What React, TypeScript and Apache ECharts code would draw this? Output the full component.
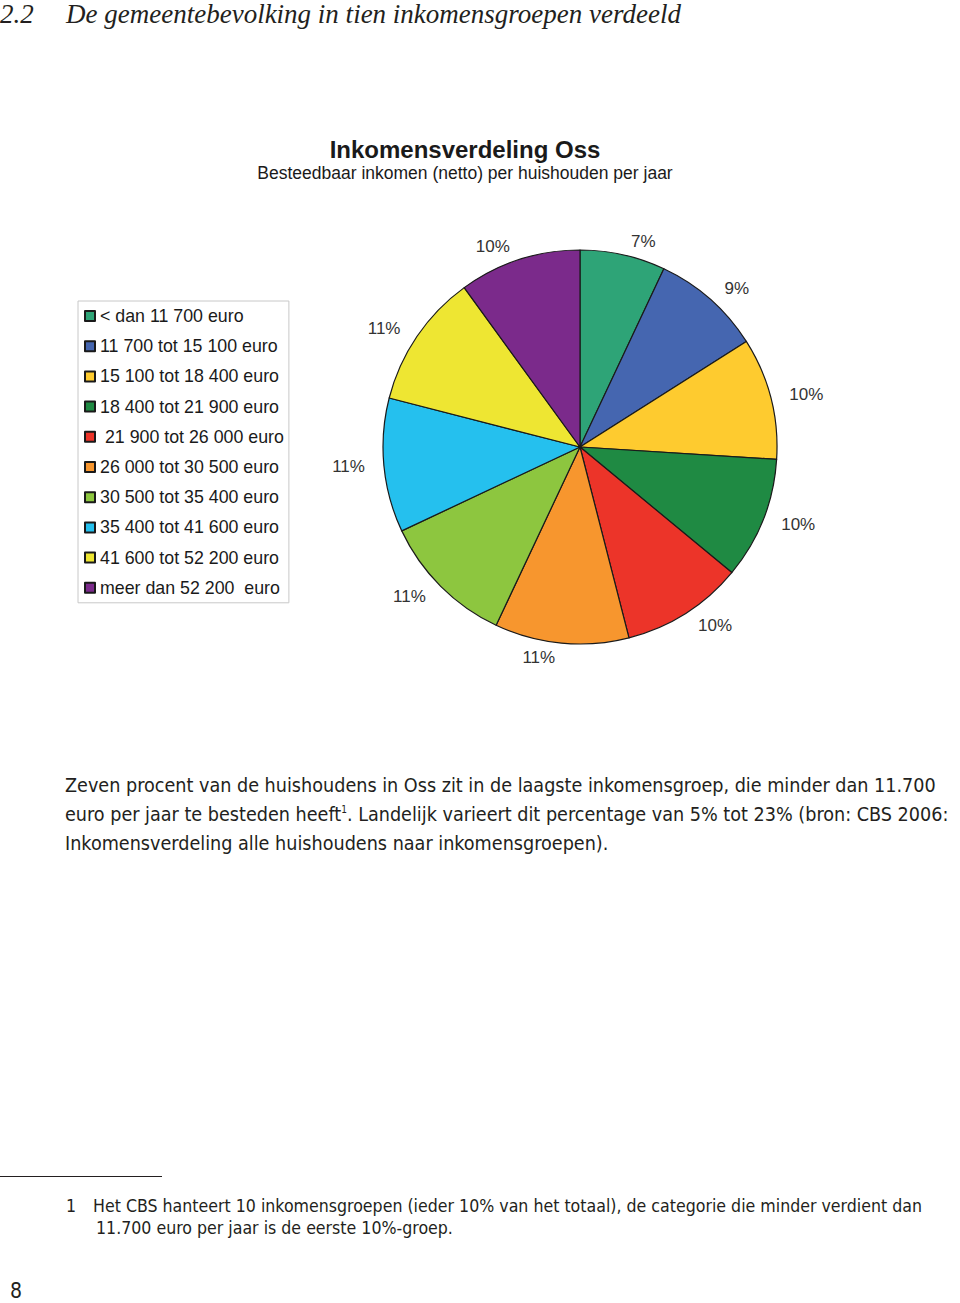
import React, { useEffect, useRef } from "react";
import * as echarts from "echarts";

const categories = [
  "< dan 11 700 euro",
  "11 700 tot 15 100 euro",
  "15 100 tot 18 400 euro",
  "18 400 tot 21 900 euro",
  " 21 900 tot 26 000 euro",
  "26 000 tot 30 500 euro",
  "30 500 tot 35 400 euro",
  "35 400 tot 41 600 euro",
  "41 600 tot 52 200 euro",
  "meer dan 52 200  euro",
];
const shares = [7, 9, 10, 10, 10, 11, 11, 11, 11, 10];
const colors = [
  "#2ea477",
  "#4566b0",
  "#fecb2f",
  "#1f8a43",
  "#ec3429",
  "#f7962e",
  "#8dc63f",
  "#25c0ee",
  "#eee632",
  "#7b2a8b",
];

const headingNumber = "2.2";
const headingText = "De gemeentebevolking in tien inkomensgroepen verdeeld";
const chartTitle = "Inkomensverdeling Oss";
const chartSubtitle = "Besteedbaar inkomen (netto) per huishouden per jaar";
const bodyLines = [
  "Zeven procent van de huishoudens in Oss zit in de laagste inkomensgroep, die minder dan 11.700",
  "euro per jaar te besteden heeft{sup|1}. Landelijk varieert dit percentage van 5% tot 23% (bron: CBS 2006:",
  "Inkomensverdeling alle huishoudens naar inkomensgroepen).",
];
const footnoteNumber = "1";
const footnoteLines = [
  "Het CBS hanteert 10 inkomensgroepen (ieder 10% van het totaal), de categorie die minder verdient dan",
  "11.700 euro per jaar is de eerste 10%-groep.",
];
const pageNumber = "8";

const BODY_FONT = "'DejaVu Sans Condensed', sans-serif";
const TEXT_COLOR = "#231f20";

export default function App() {
  const ref = useRef<HTMLDivElement>(null);

  useEffect(() => {
    if (!ref.current) return;
    const chart = echarts.init(ref.current, null, { renderer: "svg" });
    const data = categories.map((name, i) => ({
      name,
      value: shares[i],
      itemStyle: { color: colors[i] },
    }));
    chart.setOption({
      animation: false,
      backgroundColor: "#ffffff",
      title: {
        text: chartTitle,
        subtext: chartSubtitle,
        left: 460,
        top: 132,
        textAlign: "center",
        itemGap: 3,
        textStyle: {
          fontFamily: "'Liberation Sans', Arial, sans-serif",
          fontWeight: "bold",
          fontSize: 24,
          color: "#1a1a1a",
        },
        subtextStyle: {
          fontFamily: "'Liberation Sans', Arial, sans-serif",
          fontSize: 17.5,
          color: "#1a1a1a",
        },
      },
      legend: {
        orient: "vertical",
        left: 78,
        top: 301,
        padding: [5, 5, 5, 6],
        itemGap: 10.2,
        itemWidth: 10,
        itemHeight: 10,
        icon: "rect",
        borderColor: "#c8c8c8",
        borderWidth: 1,
        selectedMode: false,
        data: categories,
        textStyle: {
          fontFamily: "'Liberation Sans', Arial, sans-serif",
          fontSize: 17.8,
          lineHeight: 20,
          color: "#1a1a1a",
        },
      },
      series: [
        {
          type: "pie",
          center: [580, 447],
          radius: 197,
          startAngle: 90,
          clockwise: true,
          avoidLabelOverlap: false,
          silent: true,
          data,
          itemStyle: { borderColor: "#1a1a1a", borderWidth: 1.2 },
          label: {
            show: true,
            position: "outside",
            formatter: "{c}%",
            fontFamily: "'Liberation Sans', Arial, sans-serif",
            fontSize: 17,
            color: "#333333",
          },
          labelLine: { show: false, length: 14, length2: 0 },
          emphasis: { disabled: true },
        },
      ],
      graphic: [
        {
          type: "text",
          left: 0,
          top: 0,
          style: {
            text: headingNumber,
            font: "italic 27px 'Liberation Serif', serif",
            fill: TEXT_COLOR,
          },
        },
        {
          type: "text",
          left: 66,
          top: 0,
          style: {
            text: headingText,
            font: "italic 27px 'Liberation Serif', serif",
            fill: TEXT_COLOR,
          },
        },
        ...bodyLines.map((line, i) => ({
          type: "text",
          x: 65,
          y: 785 + i * 29,
          style: {
            text: line,
            fontFamily: BODY_FONT,
            fontSize: 19.6,
            fill: TEXT_COLOR,
            verticalAlign: "middle",
            rich: {
              sup: {
                fontFamily: BODY_FONT,
                fontSize: 10,
                fill: TEXT_COLOR,
                padding: [0, 0, 10, 0],
              },
            },
          },
        })),
        {
          type: "line",
          shape: { x1: 0, y1: 1176.5, x2: 162, y2: 1176.5 },
          style: { stroke: "#231f20", lineWidth: 1 },
        },
        {
          type: "text",
          x: 66,
          y: 1206,
          style: {
            text: footnoteNumber,
            fontFamily: BODY_FONT,
            fontSize: 17.6,
            fill: TEXT_COLOR,
            verticalAlign: "middle",
          },
        },
        ...footnoteLines.map((line, i) => ({
          type: "text",
          x: i === 0 ? 93 : 96,
          y: 1206 + i * 22,
          style: {
            text: line,
            fontFamily: BODY_FONT,
            fontSize: 17.6,
            fill: TEXT_COLOR,
            verticalAlign: "middle",
          },
        })),
        {
          type: "text",
          x: 10,
          y: 1291,
          style: {
            text: pageNumber,
            fontFamily: BODY_FONT,
            fontSize: 21,
            fill: TEXT_COLOR,
            verticalAlign: "middle",
          },
        },
      ],
    });
    return () => chart.dispose();
  }, []);

  return (
    <div
      ref={ref}
      style={{
        position: "absolute",
        left: 0,
        top: 0,
        width: 960,
        height: 1303,
        background: "#ffffff",
      }}
    />
  );
}
